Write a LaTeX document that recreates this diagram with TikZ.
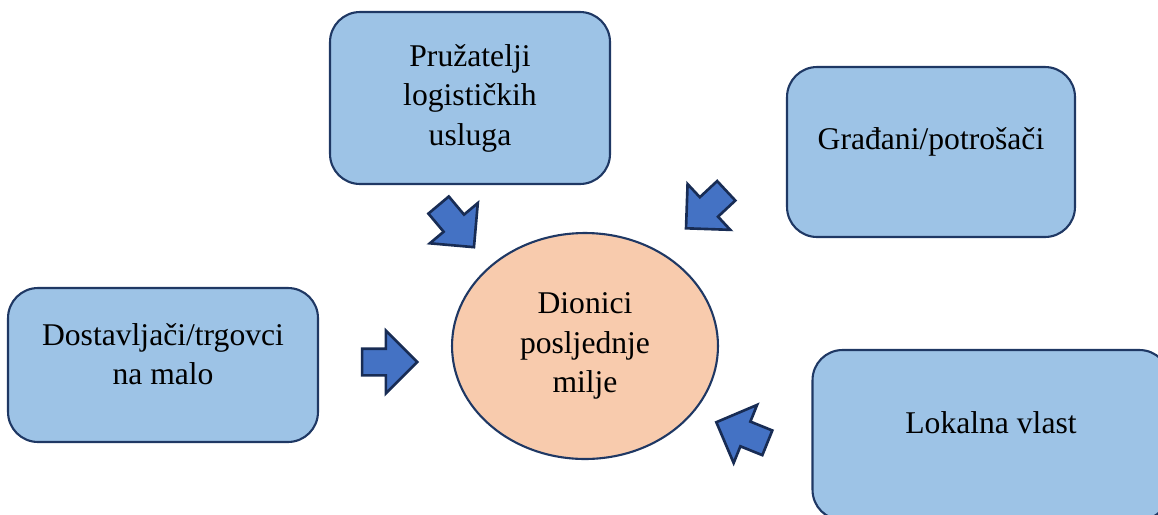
\documentclass[tikz,border=0pt]{standalone}
\usepackage{fontspec}
\setmainfont{Liberation Serif}
\usepackage{tikz}
\usetikzlibrary{shapes.arrows,shapes.geometric}

\definecolor{boxblue}{RGB}{157,195,230}
\definecolor{boxedge}{RGB}{31,56,100}
\definecolor{peach}{RGB}{248,203,173}
\definecolor{pushblue}{RGB}{68,114,196}
\definecolor{pushedge}{RGB}{24,44,84}

\newcommand{\lowpad}[1]{\rule[-#1]{0pt}{0pt}}

\begin{document}
\begin{tikzpicture}[x=0.02cm,y=-0.02cm]
    \tikzstyle{actor}=[draw=boxedge,fill=boxblue,line width=1.2pt,rounded corners=0.6cm,align=center,font=\fontsize{18}{22.5}\selectfont]
    \tikzstyle{hub}=[draw=boxedge,fill=peach,line width=1.2pt,ellipse,inner sep=0pt,align=center,font=\fontsize{18}{22.5}\selectfont]
    \tikzstyle{push}=[single arrow,draw=pushedge,fill=pushblue,line width=1.5pt,inner sep=0pt,text width=0pt,text height=0.24cm,text depth=0.24cm,minimum height=1.1cm,single arrow head extend=0.36cm]

    \useasboundingbox (0,0) rectangle (1158,514);

    % middle
    \node[hub,minimum width=5.32cm,minimum height=4.52cm] (hub) at (585,346) {Dionici\\posljednje\\milje};

    % actors round it
    \node[actor,minimum width=5.6cm,minimum height=3.44cm] (prov) at (470,98) {Pružatelji\\logističkih\\usluga};
    \node[actor,minimum width=5.76cm,minimum height=3.4cm] (grad) at (931,152) {Građani/potrošači\lowpad{0.54cm}};
    \node[actor,minimum width=6.2cm,minimum height=3.08cm] (dost) at (163,365) {Dostavljači/trgovci\\na malo\lowpad{0.44cm}};
    \node[actor,minimum width=7.14cm,minimum height=3.4cm] (lok) at (991,435) {Lokalna vlast\lowpad{0.48cm}};

    % block arrows toward the middle
    \node[push,rotate=-50] (pushProv) at (452,221) {};
    \node[push,rotate=-137] (pushGrad) at (711,205) {};
    \node[push] (pushDost) at (383,362) {};
    \node[push,rotate=158] (pushLok) at (748,435) {};

\end{tikzpicture}
\end{document}
